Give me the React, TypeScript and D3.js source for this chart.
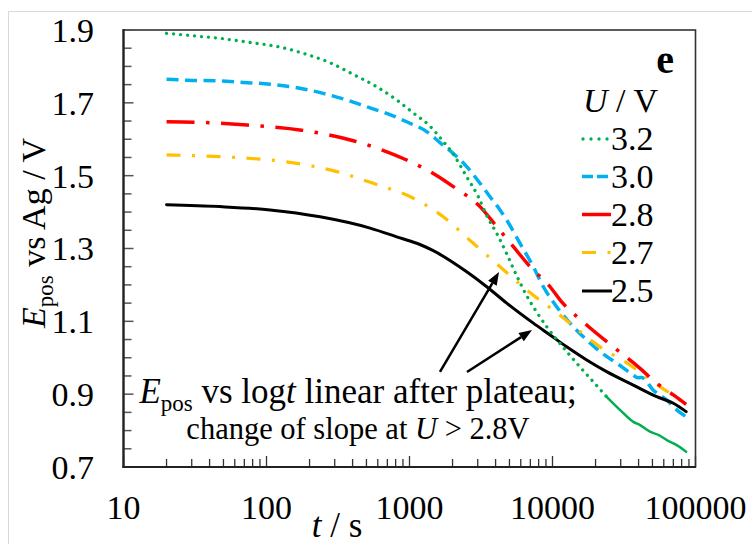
import React from 'react';
import * as d3 from 'd3';

const W = 752;
const H = 544;

// U = 3.2 V
const t32 = [20, 31, 47, 79, 124, 191, 278, 405, 590, 813, 1064, 1390, 1680, 2080, 2510, 3030, 3470, 4160, 4790, 5620, 6610, 7760, 9110, 10700, 12560, 15560, 19280, 23900, 29630, 36730, 41000, 48050, 55000, 62950, 73900, 86000];
const e32 = [1.891, 1.884, 1.877, 1.865, 1.853, 1.833, 1.81, 1.778, 1.744, 1.708, 1.672, 1.636, 1.599, 1.552, 1.497, 1.442, 1.39, 1.335, 1.285, 1.225, 1.17, 1.125, 1.085, 1.05, 1.017, 0.975, 0.934, 0.893, 0.857, 0.824, 0.815, 0.797, 0.788, 0.774, 0.76, 0.742];
// U = 3.0 V
const t30 = [20, 28, 47, 69, 106, 171, 249, 364, 502, 693, 955, 1318, 1633, 2024, 2512, 3112, 3656, 4295, 4786, 5929, 7345, 8630, 10700, 13990, 17340, 21480, 28100, 36000, 39600, 42000, 50700, 62950, 73900, 86000];
const e30 = [1.765, 1.762, 1.76, 1.756, 1.751, 1.74, 1.726, 1.708, 1.689, 1.671, 1.648, 1.621, 1.591, 1.561, 1.525, 1.479, 1.442, 1.406, 1.378, 1.314, 1.25, 1.195, 1.14, 1.085, 1.049, 1.017, 0.985, 0.955, 0.945, 0.946, 0.911, 0.884, 0.857, 0.838];
// U = 2.8 V
const t28 = [20, 31, 73, 176, 405, 955, 1466, 2024, 3112, 4074, 5324, 6966, 9616, 11280, 17340, 26600, 40930, 53540, 70000, 86000];
const e28 = [1.648, 1.647, 1.639, 1.625, 1.596, 1.543, 1.506, 1.47, 1.415, 1.36, 1.305, 1.25, 1.195, 1.159, 1.09, 1.03, 0.971, 0.93, 0.898, 0.872];
// U = 2.7 V
const t27 = [20, 31, 73, 138, 310, 558, 1064, 1722, 2780, 4295, 6607, 11280, 21480, 34830, 50470, 86000];
const e27 = [1.557, 1.555, 1.548, 1.538, 1.511, 1.479, 1.438, 1.387, 1.315, 1.25, 1.186, 1.117, 1.03, 0.98, 0.934, 0.873];
// U = 2.5 V
const t25 = [20, 47, 106, 237, 530, 859, 1183, 1466, 2512, 3467, 4786, 7345, 9616, 12560, 17340, 23900, 36730, 53540, 70000, 86000];
const e25 = [1.42, 1.415, 1.406, 1.387, 1.356, 1.329, 1.311, 1.294, 1.236, 1.195, 1.15, 1.095, 1.0625, 1.03, 0.994, 0.962, 0.925, 0.893, 0.875, 0.852];

const seriesLabels = ['3.2', '3.0', '2.8', '2.7', '2.5'];
const seriesColors = ['#00b050', '#00b0f0', '#ff0000', '#ffc000', '#000000'];
const yTickLabels = [0.7, 0.9, 1.1, 1.3, 1.5, 1.7, 1.9];
const xTickLabels = [10, 100, 1000, 10000, 100000];

// annotation arrows in data coords [t, E]
const arrow1 = [[1633, 0.961], [4227, 1.2355]];
const arrow2 = [[2523, 0.961], [7194, 1.076]];

const FONT = '"Liberation Serif", "Times New Roman", serif';

export default function App() {
  const x = d3.scaleLog().domain([10, 100000]).range([123.5, 695.5]);
  const y = d3.scaleLinear().domain([0.7, 1.9]).range([467, 30]);
  const line = d3
    .line<[number, number]>()
    .x((d) => x(d[0]))
    .y((d) => y(d[1]))
    .curve(d3.curveMonotoneX);

  const zip = (ts: number[], es: number[]) => ts.map((t, i) => [t, es[i]] as [number, number]);
  const d32 = zip(t32, e32);
  const split = 23900;
  const d32a = d32.filter((d) => d[0] <= split);
  const d32b = d32.filter((d) => d[0] >= split);

  const series = [
    { data: zip(t30, e30), color: seriesColors[1], w: 3.5, dash: '12,6.5', cap: 'butt' },
    { data: zip(t27, e27), color: seriesColors[3], w: 3.2, dash: '14,11.5,3,11.5', cap: 'butt' },
    { data: zip(t28, e28), color: seriesColors[2], w: 3.5, dash: '28,11.5,3.5,11.5', cap: 'butt' },
    { data: zip(t25, e25), color: seriesColors[4], w: 3, dash: null, cap: 'round' },
  ];

  const yMinor = d3.range(0, 25).map((i) => 0.7 + i * 0.05);
  const xMinor: number[] = [];
  for (let k = 1; k < 5; k++) for (let m = 2; m <= 9; m++) xMinor.push(m * Math.pow(10, k));

  const legendY = [150, 187.5, 225.5, 263.5, 302];

  const arrow = (a: number[][], key: string) => {
    const x1 = x(a[0][0]), y1 = y(a[0][1]), x2 = x(a[1][0]), y2 = y(a[1][1]);
    const ang = Math.atan2(y2 - y1, x2 - x1);
    const L = 13, Wd = 5;
    const bx = x2 - L * Math.cos(ang), by = y2 - L * Math.sin(ang);
    const px = -Math.sin(ang) * Wd, py = Math.cos(ang) * Wd;
    return (
      <g key={key}>
        <line x1={x1} y1={y1} x2={bx} y2={by} stroke="#000" strokeWidth={2.5} />
        <path d={`M${x2},${y2}L${bx + px},${by + py}L${bx - px},${by - py}Z`} fill="#000" />
      </g>
    );
  };

  return (
    <svg width={W} height={H} style={{ position: 'absolute', left: 0, top: 0, background: '#fff' }} fontFamily={FONT}>
      <rect x={8.5} y={11.5} width={800} height={600} fill="none" stroke="#d9d9d9" strokeWidth={1} />
      {/* plot frame */}
      <rect x={123.5} y={30} width={572} height={437} fill="#fff" stroke="#333" strokeWidth={1.6} />
      {/* y ticks */}
      {yMinor.map((v, i) => (
        <line key={'ym' + i} x1={123.5} x2={123.5 + (i % 4 === 0 ? 10 : 8)} y1={y(v)} y2={y(v)} stroke="#555" strokeWidth={1.5} />
      ))}
      {/* x ticks */}
      {xMinor.map((v, i) => (
        <line key={'xm' + i} x1={x(v)} x2={x(v)} y1={467} y2={459} stroke="#333" strokeWidth={1.3} />
      ))}
      {xTickLabels.map((v) => (
        <line key={'xM' + v} x1={x(v)} x2={x(v)} y1={467} y2={456} stroke="#333" strokeWidth={1.3} />
      ))}
      {/* axis lines */}
      <line x1={123.5} x2={123.5} y1={29} y2={468} stroke="#222" strokeWidth={2.2} />
      <line x1={122.5} x2={696} y1={467} y2={467} stroke="#222" strokeWidth={2.2} />

      {/* series */}
      {series.map((s, i) => (
        <path
          key={'s' + i}
          d={line(s.data) || ''}
          fill="none"
          stroke={s.color}
          strokeWidth={s.w}
          strokeDasharray={s.dash || undefined}
          strokeLinecap={s.cap as any}
        />
      ))}
      <path d={line(d32a) || ''} fill="none" stroke={seriesColors[0]} strokeWidth={3.3} strokeDasharray="0.01,7" strokeLinecap="round" />
      <path d={line(d32b) || ''} fill="none" stroke={seriesColors[0]} strokeWidth={2.5} strokeLinecap="round" />

      {/* tick labels */}
      {yTickLabels.map((v) => (
        <text key={'yl' + v} x={94} y={y(v)} dy="0.35em" textAnchor="end" fontSize={34}>
          {v.toFixed(1)}
        </text>
      ))}
      {xTickLabels.map((v) => (
        <text key={'xl' + v} x={x(v)} y={519} textAnchor="middle" fontSize={34}>
          {v}
        </text>
      ))}

      {/* axis titles */}
      <text transform="translate(45,233) rotate(-90)" textAnchor="middle" fontSize={34}>
        <tspan fontStyle="italic">E</tspan>
        <tspan fontSize={23} dy={8}>pos</tspan>
        <tspan dy={-8}>{'  vs Ag / V'}</tspan>
      </text>
      <text x={337} y={537} textAnchor="middle" fontSize={35}>
        <tspan fontStyle="italic">t</tspan>
        <tspan>{' / s'}</tspan>
      </text>

      {/* legend */}
      <text x={674} y={73} textAnchor="end" fontSize={40} fontWeight="bold">e</text>
      <text x={658} y={112} textAnchor="end" fontSize={34}>
        <tspan fontStyle="italic">U</tspan>
        <tspan>{' / V'}</tspan>
      </text>
      {seriesLabels.map((lab, i) => {
        const ly = legendY[i] - 11;
        const c = seriesColors[i];
        let sample;
        if (i === 0)
          sample = <line x1={583} x2={608} y1={ly} y2={ly} stroke={c} strokeWidth={3.3} strokeDasharray="0.01,8" strokeLinecap="round" />;
        else if (i === 1)
          sample = <line x1={582} x2={608} y1={ly} y2={ly} stroke={c} strokeWidth={3.5} strokeDasharray="11,4" />;
        else if (i === 2)
          sample = <line x1={582} x2={611} y1={ly} y2={ly} stroke={c} strokeWidth={3.5} />;
        else if (i === 3)
          sample = <line x1={582} x2={611} y1={ly} y2={ly} stroke={c} strokeWidth={3.2} strokeDasharray="14,11.5,3,11.5" />;
        else sample = <line x1={582} x2={612} y1={ly} y2={ly} stroke={c} strokeWidth={3} />;
        return (
          <g key={'lg' + i}>
            {sample}
            <text x={611} y={legendY[i]} fontSize={34}>{lab}</text>
          </g>
        );
      })}

      {/* annotation */}
      {arrow(arrow1, 'a1')}
      {arrow(arrow2, 'a2')}
      <text x={358} y={403} textAnchor="middle" fontSize={35}>
        <tspan fontStyle="italic">E</tspan>
        <tspan fontSize={23} dy={8}>pos</tspan>
        <tspan dy={-8}>{' vs log'}</tspan>
        <tspan fontStyle="italic">t</tspan>
        <tspan>{' linear after plateau;'}</tspan>
      </text>
      <text x={358} y={439} textAnchor="middle" fontSize={30.5}>
        <tspan>{'change of slope at '}</tspan>
        <tspan fontStyle="italic">U</tspan>
        <tspan>{' > 2.8V'}</tspan>
      </text>
    </svg>
  );
}
